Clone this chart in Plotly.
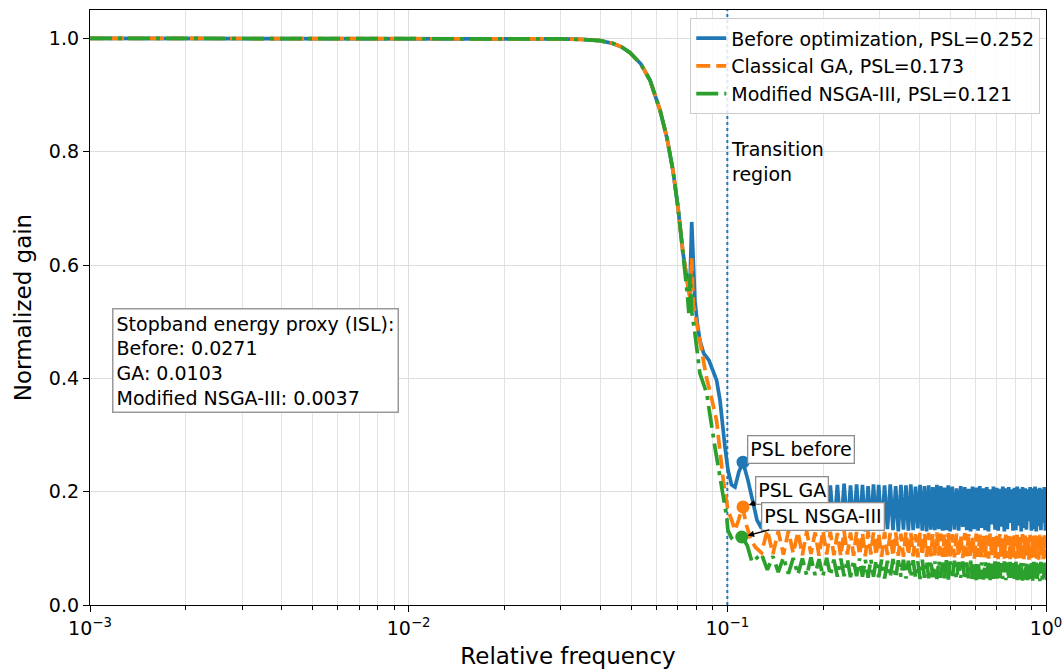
import plotly.graph_objects as go
import numpy as np

# ---------------- data ----------------
pass_freq = [0.001, 0.003, 0.01, 0.02, 0.03, 0.035, 0.0398, 0.0438, 0.0465, 0.0494,
             0.0535, 0.0572, 0.0615, 0.0646, 0.0675, 0.0700, 0.0726]
pass_gain = [1.0, 1.0, 1.0, 1.0, 0.999, 0.998, 0.996, 0.991, 0.985, 0.975,
             0.955, 0.926, 0.873, 0.825, 0.767, 0.702, 0.621]

blue_trans_freq = [0.0745, 0.0762, 0.0773, 0.0782, 0.0791, 0.0805, 0.0820, 0.0843, 0.0875,
                   0.0925, 0.0948, 0.0983, 0.1005, 0.1031, 0.1057, 0.1087, 0.1120, 0.1161,
                   0.1203, 0.1239]
blue_trans_gain = [0.580, 0.545, 0.676, 0.600, 0.538, 0.497, 0.467, 0.444, 0.432,
                   0.397, 0.362, 0.279, 0.238, 0.212, 0.208, 0.235, 0.252, 0.220,
                   0.185, 0.150]

orange_trans_freq = [0.0745, 0.0762, 0.0773, 0.0782, 0.0795, 0.0820, 0.0861, 0.0884, 0.0925,
                     0.0971, 0.1004, 0.1031, 0.1057, 0.1085, 0.1115, 0.1150, 0.1185, 0.1225]
orange_trans_gain = [0.579, 0.540, 0.612, 0.530, 0.508, 0.467, 0.400, 0.375, 0.326,
                     0.220, 0.168, 0.150, 0.132, 0.150, 0.173, 0.140, 0.115, 0.102]

green_trans_freq = [0.0740, 0.0750, 0.0757, 0.0765, 0.0772, 0.0791, 0.0820, 0.0861, 0.0914,
                    0.0959, 0.0995, 0.1004, 0.1031, 0.1057, 0.1085, 0.1110, 0.1155, 0.1195]
green_trans_gain = [0.585, 0.545, 0.515, 0.585, 0.520, 0.480, 0.409, 0.374, 0.279,
                    0.208, 0.156, 0.132, 0.118, 0.112, 0.116, 0.121, 0.105, 0.076]

# stopband extrema frequencies (alternating extrema)
stop_freq = [
    0.128, 0.1335, 0.139, 0.1445, 0.150, 0.1555, 0.161, 0.1665, 0.172, 0.1775,
    0.183, 0.1885, 0.194, 0.1995, 0.205, 0.2105, 0.216, 0.2215, 0.227, 0.2325,
    0.238, 0.2435, 0.249, 0.2545, 0.260, 0.2655, 0.271, 0.2765, 0.282, 0.2875,
    0.293, 0.2985,
    0.305, 0.3115, 0.318, 0.3245, 0.331, 0.3375, 0.344, 0.3505, 0.357, 0.3635,
    0.370, 0.3765, 0.383, 0.3895, 0.396, 0.4025, 0.409, 0.4155, 0.422, 0.4285,
    0.435, 0.4415, 0.448, 0.4545, 0.461, 0.4675, 0.474, 0.4805, 0.487, 0.4935,
    0.500,
    0.508, 0.516, 0.524, 0.532, 0.540, 0.548, 0.556, 0.564, 0.572, 0.580,
    0.588, 0.596, 0.604, 0.612, 0.620, 0.628, 0.636, 0.644, 0.652, 0.660,
    0.668, 0.676, 0.684, 0.692, 0.700, 0.708, 0.716, 0.724, 0.732, 0.740,
    0.748, 0.756, 0.764, 0.772, 0.780, 0.788, 0.796, 0.804, 0.812, 0.820,
    0.828, 0.836, 0.844, 0.852, 0.860, 0.868, 0.876, 0.884, 0.892, 0.900,
    0.908, 0.916, 0.924, 0.932, 0.940, 0.948, 0.956, 0.964, 0.972, 0.980,
    0.988, 0.996, 1.004]

blue_troughs = [
    0.135, 0.133, 0.132, 0.134, 0.131, 0.133, 0.132, 0.130, 0.133, 0.131,
    0.132, 0.134, 0.131, 0.130, 0.133, 0.132, 0.131, 0.134, 0.132, 0.130,
    0.133, 0.131, 0.132, 0.135, 0.131, 0.130, 0.133, 0.132, 0.134, 0.131,
    0.132, 0.130, 0.133, 0.131, 0.138, 0.132, 0.130, 0.134, 0.131, 0.136,
    0.132, 0.130, 0.142, 0.133, 0.131, 0.138, 0.130, 0.134, 0.145, 0.131,
    0.132, 0.140, 0.130, 0.136, 0.133, 0.148, 0.131, 0.134, 0.130, 0.139,
    0.132, 0.145, 0.131]
blue_peaks = [
    0.208, 0.212, 0.213, 0.211, 0.214, 0.212, 0.213, 0.211, 0.212, 0.214,
    0.211, 0.213, 0.212, 0.210, 0.213, 0.212, 0.211, 0.213, 0.210, 0.212,
    0.211, 0.213, 0.209, 0.212, 0.210, 0.211, 0.208, 0.212, 0.210, 0.207,
    0.211, 0.209, 0.206, 0.210, 0.208, 0.205, 0.209, 0.207, 0.210, 0.206,
    0.208, 0.204, 0.209, 0.207, 0.205, 0.209, 0.206, 0.208, 0.204, 0.207,
    0.209, 0.205, 0.208, 0.206, 0.204, 0.208, 0.206, 0.209, 0.205, 0.207,
    0.204, 0.208, 0.206]

orange_troughs = [
    0.092, 0.090, 0.089, 0.091, 0.088, 0.090, 0.087, 0.089, 0.088, 0.086,
    0.089, 0.087, 0.088, 0.086, 0.089, 0.087, 0.085, 0.088, 0.086, 0.087,
    0.085, 0.088, 0.086, 0.084, 0.087, 0.085, 0.086, 0.084, 0.087, 0.085,
    0.083, 0.086, 0.084, 0.085, 0.083, 0.086, 0.084, 0.082, 0.085, 0.083,
    0.084, 0.082, 0.085, 0.083, 0.081, 0.084, 0.082, 0.083, 0.081, 0.084,
    0.082, 0.080, 0.083, 0.081, 0.082, 0.080, 0.083, 0.081, 0.082, 0.080,
    0.083, 0.081, 0.082]
orange_peaks = [
    0.132, 0.130, 0.131, 0.129, 0.130, 0.128, 0.131, 0.129, 0.127, 0.130,
    0.128, 0.129, 0.127, 0.130, 0.128, 0.126, 0.129, 0.127, 0.128, 0.126,
    0.129, 0.127, 0.125, 0.128, 0.126, 0.127, 0.125, 0.128, 0.126, 0.124,
    0.127, 0.125, 0.126, 0.124, 0.127, 0.125, 0.123, 0.126, 0.124, 0.125,
    0.123, 0.126, 0.124, 0.122, 0.125, 0.123, 0.124, 0.122, 0.125, 0.123,
    0.124, 0.122, 0.125, 0.123, 0.121, 0.124, 0.122, 0.123, 0.121, 0.124,
    0.122, 0.123, 0.121]

green_peaks = [
    0.090, 0.086, 0.084, 0.083, 0.082, 0.084, 0.081, 0.083, 0.080, 0.082,
    0.081, 0.079, 0.082, 0.080, 0.081, 0.079, 0.080, 0.078, 0.081, 0.079,
    0.080, 0.078, 0.079, 0.077, 0.080, 0.078, 0.079, 0.077, 0.078, 0.076,
    0.079, 0.077, 0.078, 0.076, 0.077, 0.075, 0.078, 0.076, 0.077, 0.075,
    0.076, 0.078, 0.075, 0.077, 0.076, 0.074, 0.077, 0.075, 0.076, 0.074,
    0.077, 0.075, 0.076, 0.074, 0.075, 0.077, 0.074, 0.076, 0.075, 0.073,
    0.076, 0.074, 0.075]
green_troughs = [
    0.062, 0.058, 0.055, 0.054, 0.052, 0.053, 0.051, 0.052, 0.050, 0.051,
    0.049, 0.051, 0.050, 0.048, 0.050, 0.049, 0.047, 0.049, 0.048, 0.050,
    0.047, 0.049, 0.048, 0.046, 0.048, 0.047, 0.049, 0.046, 0.048, 0.047,
    0.045, 0.047, 0.046, 0.048, 0.045, 0.047, 0.046, 0.044, 0.046, 0.045,
    0.047, 0.044, 0.046, 0.045, 0.043, 0.046, 0.044, 0.045, 0.043, 0.046,
    0.044, 0.045, 0.043, 0.045, 0.044, 0.046, 0.043, 0.045, 0.044, 0.042,
    0.045, 0.043, 0.044]

psl_labels = ["PSL before", "PSL GA", "PSL NSGA-III"]
psl_freq = [0.112, 0.112, 0.111]
psl_gain = [0.252, 0.173, 0.120]
series_names = ["Before optimization, PSL=0.252", "Classical GA, PSL=0.173",
                "Modified NSGA-III, PSL=0.121"]
isl_lines = ["Stopband energy proxy (ISL):", "Before: 0.0271", "GA: 0.0103",
             "Modified NSGA-III: 0.0037"]
transition_freq = 0.1

x_tick_vals = [0.001, 0.01, 0.1, 1.0]
x_tick_text = ["10<sup>−3</sup>", "10<sup>−2</sup>", "10<sup>−1</sup>", "10<sup>0</sup>"]
y_tick_vals = [0.0, 0.2, 0.4, 0.6, 0.8, 1.0]

# ---------------- build ----------------
def interleave(first, second):
    out = []
    for a, b in zip(first, second):
        out += [a, b]
    return out

blue_x = pass_freq + blue_trans_freq + stop_freq
blue_y = pass_gain + blue_trans_gain + interleave(blue_troughs, blue_peaks)
orange_x = pass_freq + orange_trans_freq + stop_freq
orange_y = pass_gain + orange_trans_gain + interleave(orange_troughs, orange_peaks)
green_x = pass_freq + green_trans_freq + stop_freq
green_y = pass_gain + green_trans_gain + interleave(green_peaks, green_troughs)

minor_vals = [m * d for d in [0.001, 0.01, 0.1] for m in range(2, 10)]

C_BLUE, C_ORANGE, C_GREEN = "#1f77b4", "#ff7f0e", "#2ca02c"
FONT = "DejaVu Sans"

fig = go.Figure()
fig.add_trace(go.Scatter(x=[transition_freq, transition_freq], y=[0, 1.05], mode="lines",
                         line=dict(color=C_BLUE, width=2, dash="dot"), showlegend=False,
                         hoverinfo="skip"))
fig.add_trace(go.Scatter(x=blue_x, y=blue_y, mode="lines", name=series_names[0],
                         line=dict(color=C_BLUE, width=3.7)))
fig.add_trace(go.Scatter(x=orange_x, y=orange_y, mode="lines", name=series_names[1],
                         line=dict(color=C_ORANGE, width=3.7, dash="14px,6px")))
fig.add_trace(go.Scatter(x=green_x, y=green_y, mode="lines", name=series_names[2],
                         line=dict(color=C_GREEN, width=3.7, dash="22px,6px,4px,6px")))
for fx, gy, c in zip(psl_freq, psl_gain, [C_BLUE, C_ORANGE, C_GREEN]):
    fig.add_trace(go.Scatter(x=[fx], y=[gy], mode="markers", showlegend=False,
                             marker=dict(color=c, size=13)))

offsets = [(58, -13), (49, -16), (81, -21)]
for lab, fx, gy, (ax, ay) in zip(psl_labels, psl_freq, psl_gain, offsets):
    fig.add_annotation(x=np.log10(fx), y=gy, xref="x", yref="y", text=lab,
                       showarrow=True, ax=ax, ay=ay, arrowhead=2, arrowsize=1,
                       arrowwidth=1.3, arrowcolor="black", standoff=6,
                       font=dict(family=FONT, size=19, color="black"),
                       bgcolor="white", bordercolor="#8c8c8c", borderwidth=1.3,
                       borderpad=2)

fig.add_annotation(x=np.log10(transition_freq), y=0.828, xref="x", yref="y",
                   text="Transition<br>region", showarrow=False, xanchor="left",
                   yanchor="top", xshift=2, align="left",
                   font=dict(family=FONT, size=19, color="black"))

fig.add_annotation(x=0.023, y=0.499, xref="paper", yref="paper",
                   text="<br>".join(isl_lines), showarrow=False, xanchor="left",
                   yanchor="top", align="left",
                   font=dict(family=FONT, size=19, color="black"),
                   bgcolor="white", bordercolor="#999999", borderwidth=1.5,
                   borderpad=3)

fig.update_layout(
    width=1064, height=671,
    margin=dict(l=90, r=18, t=10, b=66),
    plot_bgcolor="white", paper_bgcolor="white",
    font=dict(family=FONT, size=19, color="black"),
    legend=dict(x=0.994, y=0.986, xanchor="right", yanchor="top",
                bgcolor="rgba(255,255,255,0.85)", bordercolor="#cccccc", borderwidth=1,
                font=dict(family=FONT, size=19)),
    xaxis=dict(type="log", range=[-3, 0], tickmode="array", tickvals=x_tick_vals,
               ticktext=x_tick_text, automargin=False,
               showline=True, linecolor="black", linewidth=1.3, mirror=True,
               ticks="outside", ticklen=6, tickwidth=1.2, tickcolor="black",
               showgrid=True, gridcolor="#dddddd", gridwidth=1,
               minor=dict(tickmode="array", tickvals=minor_vals, ticks="outside",
                          ticklen=3.5, tickcolor="black",
                          showgrid=True, gridcolor="#e3e3e3", gridwidth=1),
               title=dict(text="Relative frequency", font=dict(size=23), standoff=9),
               tickfont=dict(size=19), zeroline=False),
    yaxis=dict(range=[0, 1.05], tickmode="array", tickvals=y_tick_vals, tickformat=".1f",
               showline=True, linecolor="black", linewidth=1.3, mirror=True,
               ticks="outside", ticklen=6, tickwidth=1.2, tickcolor="black",
               showgrid=True, gridcolor="#dddddd", gridwidth=1, automargin=False,
               title=dict(text="Normalized gain", font=dict(size=23), standoff=10),
               tickfont=dict(size=19), zeroline=False),
)

fig.write_html("out.html")
